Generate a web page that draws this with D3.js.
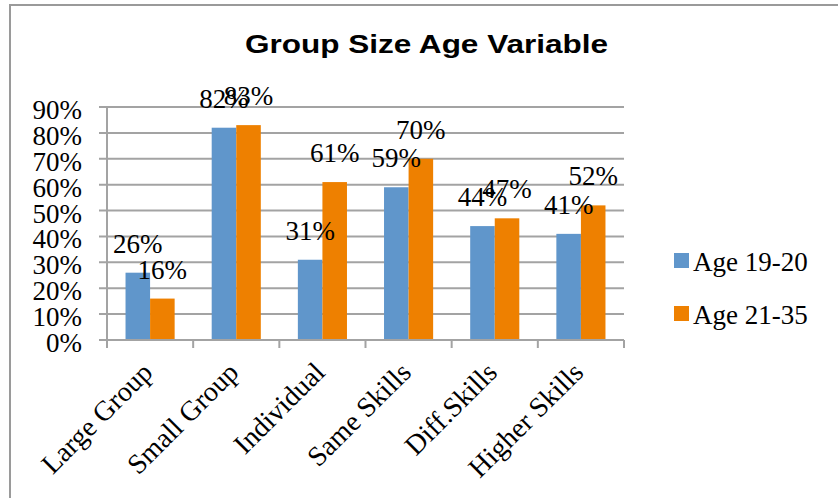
<!DOCTYPE html>
<html>
<head>
<meta charset="utf-8">
<script src="https://cdn.jsdelivr.net/npm/d3@7"></script>
<style>
  html, body { margin: 0; padding: 0; background: #fff; }
  svg { display: block; }
</style>
</head>
<body>
<svg id="chart" width="838" height="498"></svg>
<script>
// Group size preferences by age band
const categories = ["Large Group", "Small Group", "Individual", "Same Skills", "Diff.Skills", "Higher Skills"];
const seriesNames = ["Age 19-20", "Age 21-35"];
const age1920 = [0.26, 0.82, 0.31, 0.59, 0.44, 0.41];
const age2135 = [0.16, 0.83, 0.61, 0.70, 0.47, 0.52];
const yTicks = [0, 0.1, 0.2, 0.3, 0.4, 0.5, 0.6, 0.7, 0.8, 0.9];
const colors = ["#6096CB", "#EE8000"];

const seriesValues = [age1920, age2135];
const rows = categories.map((c, i) => ({
  category: c,
  values: seriesNames.map((s, j) => ({ series: s, value: seriesValues[j][i] }))
}));

const svg = d3.select("#chart");
const serif = "'Liberation Serif', 'Times New Roman', serif";
const labelSize = 27;

// chart frame (top and left edges)
svg.append("line").attr("x1", 10).attr("x2", 838).attr("y1", 5).attr("y2", 5)
  .attr("stroke", "#9a9a9a").attr("stroke-width", 2);
svg.append("line").attr("x1", 10).attr("x2", 10).attr("y1", 4).attr("y2", 498)
  .attr("stroke", "#9a9a9a").attr("stroke-width", 2);

// title
svg.append("text")
  .attr("x", 245).attr("y", 53)
  .attr("font-family", "'Liberation Sans', Arial, sans-serif")
  .attr("font-weight", "bold")
  .attr("font-size", 26)
  .attr("textLength", 363)
  .attr("lengthAdjust", "spacingAndGlyphs")
  .attr("fill", "#000")
  .text("Group Size Age Variable");

const plotLeft = 107, plotRight = 624, plotTop = 107, plotBottom = 340;

const x0 = d3.scaleBand().domain(categories).range([plotLeft, plotRight])
  .paddingInner(0.43).paddingOuter(0.215);
const x1 = d3.scaleBand().domain(seriesNames).range([0, x0.bandwidth()]);
const y = d3.scaleLinear().domain([0, 0.9]).range([plotBottom, plotTop]);

// horizontal gridlines with left tick stubs
const grid = svg.append("g");
grid.selectAll("line").data(yTicks).join("line")
  .attr("x1", plotLeft - 8).attr("x2", plotRight)
  .attr("y1", d => y(d)).attr("y2", d => y(d))
  .attr("stroke", "#a3a3a3").attr("stroke-width", 2);

// y axis line
svg.append("line")
  .attr("x1", plotLeft).attr("x2", plotLeft)
  .attr("y1", plotTop).attr("y2", plotBottom + 8)
  .attr("stroke", "#a3a3a3").attr("stroke-width", 2);

// y tick labels
svg.append("g").selectAll("text").data(yTicks).join("text")
  .attr("x", 82).attr("y", d => y(d) + 12)
  .attr("text-anchor", "end")
  .attr("font-family", serif).attr("font-size", labelSize)
  .attr("fill", "#000")
  .text(d3.format(".0%"));

// bars
const groups = svg.append("g").selectAll("g").data(rows).join("g")
  .attr("transform", d => `translate(${x0(d.category)},0)`);

groups.selectAll("rect").data(d => d.values).join("rect")
  .attr("x", d => x1(d.series))
  .attr("y", d => y(d.value))
  .attr("width", x1.bandwidth())
  .attr("height", d => y(0) - y(d.value))
  .attr("fill", (d, i) => colors[i]);

// data labels above bars
groups.selectAll("text").data(d => d.values).join("text")
  .attr("x", d => x1(d.series) + x1.bandwidth() / 2)
  .attr("y", d => y(d.value) - 20)
  .attr("text-anchor", "middle")
  .attr("font-family", serif).attr("font-size", labelSize)
  .attr("fill", "#000")
  .text(d => d3.format(".0%")(d.value));

// x axis line and category boundary ticks
svg.append("line")
  .attr("x1", plotLeft - 8).attr("x2", plotRight)
  .attr("y1", plotBottom).attr("y2", plotBottom)
  .attr("stroke", "#a3a3a3").attr("stroke-width", 2);
const step = x0.step();
const boundaries = d3.range(categories.length + 1).map(i => x0(categories[0]) - x0.paddingOuter() * step + i * step);
svg.append("g").selectAll("line").data(boundaries).join("line")
  .attr("x1", d => d).attr("x2", d => d)
  .attr("y1", plotBottom).attr("y2", plotBottom + 8)
  .attr("stroke", "#a3a3a3").attr("stroke-width", 2);

// rotated category labels
svg.append("g").selectAll("text").data(categories).join("text")
  .attr("transform", d => `translate(${x0(d) + x0.bandwidth() / 2 + 4},${plotBottom + 34}) rotate(-45)`)
  .attr("text-anchor", "end")
  .attr("font-family", serif).attr("font-size", 28)
  .attr("fill", "#000")
  .text(d => d);

// legend
const legend = svg.append("g").selectAll("g").data(seriesNames).join("g")
  .attr("transform", (d, i) => `translate(674,${253 + i * 53})`);
legend.append("rect").attr("width", 15).attr("height", 15)
  .attr("fill", (d, i) => colors[i]);
legend.append("text")
  .attr("x", 19).attr("y", 18)
  .attr("font-family", serif).attr("font-size", labelSize)
  .attr("fill", "#000")
  .text(d => d);
</script>
</body>
</html>
